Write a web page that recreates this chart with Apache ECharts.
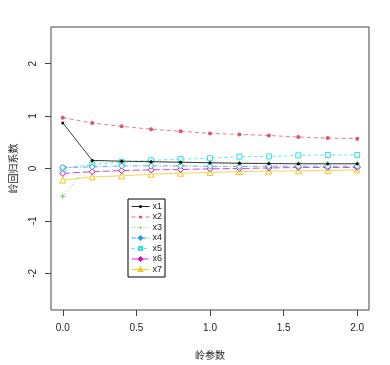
<!DOCTYPE html>
<html><head><meta charset="utf-8">
<script src="https://cdn.jsdelivr.net/npm/echarts@6/dist/echarts.min.js"></script>
<style>html,body{margin:0;padding:0;background:#fff}#c{width:390px;height:365px}</style>
</head><body><div id="c"></div>
<script>
const lambdas = [0, 0.2, 0.4, 0.6, 0.8, 1.0, 1.2, 1.4, 1.6, 1.8, 2.0];
const seriesNames = ['x1','x2','x3','x4','x5','x6','x7'];
const x1 = [0.87, 0.155, 0.14, 0.13, 0.12, 0.11, 0.10, 0.095, 0.09, 0.09, 0.09];
const x2 = [0.97, 0.868, 0.805, 0.75, 0.71, 0.67, 0.65, 0.63, 0.60, 0.58, 0.57];
const x3 = [-0.53, 0.145, 0.126, 0.126, 0.115, 0.107, 0.10, 0.094, 0.094, 0.094, 0.094];
const x4 = [0.02, 0.03, 0.05, 0.05, 0.05, 0.04, 0.04, 0.044, 0.044, 0.044, 0.044];
const x5 = [0.0, 0.075, 0.126, 0.157, 0.18, 0.195, 0.226, 0.23, 0.25, 0.258, 0.258];
const x6 = [-0.094, -0.06, -0.04, -0.025, -0.02, -0.006, 0.0, 0.01, 0.02, 0.02, 0.02];
const x7 = [-0.22, -0.16, -0.14, -0.11, -0.09, -0.075, -0.06, -0.05, -0.045, -0.04, -0.025];
const xTicks = [0, 0.5, 1.0, 1.5, 2.0];
const yTicks = [-2, -1, 0, 1, 2];
const allValues = [x1, x2, x3, x4, x5, x6, x7];

const colors = ['#000000', '#DF536B', '#61D04F', '#2297E6', '#28E2E5', '#CD0BBC', '#F5C710'];
const dashes = ['solid', [4, 3], [1, 2], [5, 2, 1, 2], [3, 3], [7, 3], 'solid'];
const plusPath = 'path://M4,0 L6,0 L6,4 L10,4 L10,6 L6,6 L6,10 L4,10 L4,6 L0,6 L0,4 L4,4 Z';
const symbols = ['circle', 'circle', plusPath, 'diamond', 'rect', 'diamond', 'triangle'];
const symSizes = [3, 4, 5, 6, 5, 6, 6];
const filled = [true, true, true, false, false, false, false];

const series = seriesNames.map((n, k) => ({
  name: n,
  type: 'line',
  data: lambdas.map((x, i) => [x, allValues[k][i]]),
  symbol: symbols[k],
  symbolSize: symSizes[k],
  showSymbol: true,
  lineStyle: { color: colors[k], width: 0.9, type: dashes[k], opacity: 0.85 },
  itemStyle: filled[k] ? { color: colors[k], borderWidth: 0 } : { color: '#fff', borderColor: colors[k], borderWidth: 1 },
  z: 10 - k,
  animation: false
}));

const chart = echarts.init(document.getElementById('c'));
const font = '"Liberation Sans", Arial, "Noto Sans CJK SC", sans-serif';
chart.setOption({
  animation: false,
  textStyle: { fontFamily: font },
  grid: { left: 47, right: 21, top: 27, bottom: 52, show: true, borderColor: '#444', borderWidth: 1, backgroundColor: 'transparent' },
  xAxis: {
    type: 'value', min: -0.08, max: 2.08,
    name: '岭参数', nameLocation: 'middle', nameGap: 40,
    nameTextStyle: { fontSize: 10, color: '#222', fontFamily: '"Noto Sans CJK SC", sans-serif' },
    axisLine: { show: false, onZero: false },
    splitLine: { show: false },
    axisTick: { show: true, length: 6, lineStyle: { color: '#444' }, customValues: xTicks },
    axisLabel: { fontSize: 10, color: '#222', margin: 13, customValues: xTicks, formatter: v => Number(v).toFixed(1) }
  },
  yAxis: {
    type: 'value', min: -2.7, max: 2.7,
    name: '岭回归系数', nameLocation: 'middle', nameGap: 33,
    nameTextStyle: { fontSize: 10, color: '#222', fontFamily: '"Noto Sans CJK SC", sans-serif' },
    axisLine: { show: false, onZero: false },
    splitLine: { show: false },
    axisTick: { show: true, length: 6, lineStyle: { color: '#444' }, customValues: yTicks },
    axisLabel: { fontSize: 10, color: '#222', margin: 13, rotate: 90, customValues: yTicks, formatter: v => String(v) }
  },
  legend: {
    data: seriesNames,
    orient: 'vertical',
    left: 128, top: 199,
    borderColor: '#000', borderWidth: 1, borderRadius: 0,
    padding: [3, 3, 3, 3],
    itemWidth: 18, itemHeight: 4, itemGap: 1.5,
    lineStyle: { width: 1 },
    textStyle: { fontSize: 9, lineHeight: 9, height: 9, color: '#222', padding: [0, 0, 0, -2] },
    backgroundColor: '#fff'
  },
  series: series
});
</script>
</body></html>
